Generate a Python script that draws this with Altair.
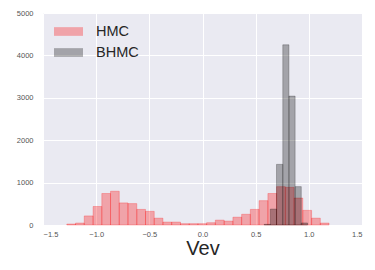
import altair as alt
import pandas as pd

# HMC histogram (30 bins)
hmc_left = [-1.276, -1.194, -1.112, -1.029, -0.947, -0.865, -0.783, -0.701, -0.618, -0.536,
            -0.454, -0.372, -0.290, -0.207, -0.125, -0.043, 0.039, 0.121, 0.204, 0.286,
            0.368, 0.450, 0.532, 0.615, 0.697, 0.779, 0.861, 0.943, 1.026, 1.108]
hmc_right = [-1.194, -1.112, -1.029, -0.947, -0.865, -0.783, -0.701, -0.618, -0.536, -0.454,
             -0.372, -0.290, -0.207, -0.125, -0.043, 0.039, 0.121, 0.204, 0.286, 0.368,
             0.450, 0.532, 0.615, 0.697, 0.779, 0.861, 0.943, 1.026, 1.108, 1.190]
hmc_count = [23, 46, 214, 436, 743, 796, 521, 505, 368, 322,
             161, 69, 69, 31, 31, 31, 54, 115, 92, 184,
             253, 368, 574, 743, 904, 888, 636, 345, 161, 46]

# BHMC histogram (visible bins)
bhmc_left = [0.580, 0.638, 0.696, 0.755, 0.813, 0.871, 0.929]
bhmc_right = [0.638, 0.696, 0.755, 0.813, 0.871, 0.929, 0.988]
bhmc_count = [15, 375, 1430, 4250, 3040, 905, 48]

series_names = ["HMC", "BHMC"]
series_colors = ["red", "black"]
x_ticks = [-1.5, -1.0, -0.5, 0.0, 0.5, 1.0, 1.5]
y_ticks = [0, 1000, 2000, 3000, 4000, 5000]

df = pd.concat([
    pd.DataFrame({"series": "HMC", "x": hmc_left, "x2": hmc_right, "y": hmc_count}),
    pd.DataFrame({"series": "BHMC", "x": bhmc_left, "x2": bhmc_right, "y": bhmc_count}),
])

font = "Liberation Sans"

chart = alt.Chart(df).mark_bar(
    fillOpacity=0.3, strokeOpacity=0.3, strokeWidth=0.8, cornerRadius=0
).encode(
    x=alt.X("x:Q", scale=alt.Scale(domain=[-1.5, 1.5], nice=False, zero=False),
            axis=alt.Axis(values=x_ticks, format=".1f", title="Vev")),
    x2="x2:Q",
    y=alt.Y("y:Q", stack=None, scale=alt.Scale(domain=[0, 5000], nice=False),
            axis=alt.Axis(values=y_ticks, format="d", title=None)),
    y2=alt.datum(0),
    color=alt.Color("series:N", scale=alt.Scale(domain=series_names, range=series_colors),
                    legend=alt.Legend(title=None, orient="none", legendX=11, legendY=4,
                                      symbolType="M-1,-0.3L1,-0.3L1,0.3L-1,0.3Z",
                                      symbolSize=841, symbolOpacity=0.3,
                                      symbolStrokeWidth=0, labelFontSize=14.5,
                                      labelFont=font, labelColor="#262626",
                                      labelOffset=13, rowPadding=0, padding=0)),
    stroke=alt.Color("series:N", scale=alt.Scale(domain=series_names, range=series_colors),
                     legend=None),
).properties(
    width=319, height=212,
    autosize=alt.AutoSizeParams(type="none"),
    padding={"left": 35, "top": 5, "right": 5, "bottom": 37},
).configure_view(
    fill="#EAEAF2", stroke=None
).configure_axis(
    grid=True, gridColor="white", gridWidth=1, domain=False, ticks=False, tickSize=0,
    labelFont=font, labelFontSize=7.5, labelColor="#555555",
    titleFont=font, titleFontSize=20, titleFontWeight="normal", titleColor="#262626"
).configure_axisX(
    labelPadding=5, titlePadding=1
).configure_axisY(
    labelPadding=10
)

chart.save("out.html", embed_options={"renderer": "svg", "actions": False})
